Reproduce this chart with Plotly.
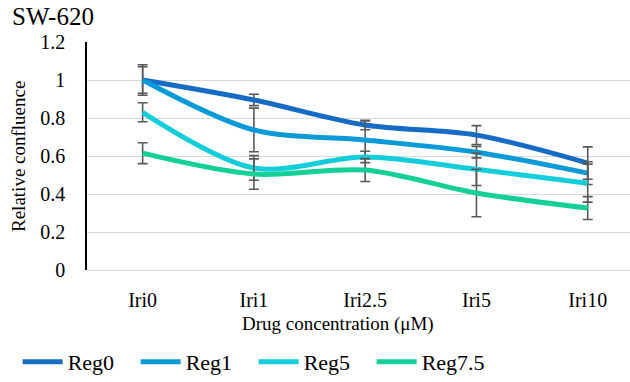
import plotly.graph_objects as go

categories = ["Iri0", "Iri1", "Iri2.5", "Iri5", "Iri10"]
series_names = ["Reg0", "Reg1", "Reg5", "Reg7.5"]
reg0 = [1.0, 0.895, 0.763, 0.71, 0.563]
reg1 = [1.0, 0.737, 0.684, 0.62, 0.51]
reg5 = [0.83, 0.537, 0.595, 0.53, 0.457]
reg75 = [0.615, 0.505, 0.526, 0.405, 0.326]
err0 = [0.08, 0.03, 0.025, 0.05, 0.085]
err1 = [0.07, 0.115, 0.1, 0.03, 0.06]
err5 = [0.05, 0.065, 0.03, 0.085, 0.1]
err75 = [0.055, 0.08, 0.06, 0.125, 0.06]
x_title = "Drug concentration (μM)"
y_title = "Relative confluence"
chart_title = "SW-620"

values = [reg0, reg1, reg5, reg75]
errors = [err0, err1, err5, err75]
colors = ["#166CC4", "#0A9AD8", "#13CEDA", "#14CF96"]

fig = go.Figure()
for name, vals, errs, col in zip(series_names, values, errors, colors):
    fig.add_trace(go.Scatter(
        x=categories, y=vals, name=name, mode="lines",
        line=dict(color=col, width=5, shape="spline", smoothing=0.9),
        error_y=dict(type="data", array=errs, visible=True,
                     color="#595959", thickness=1.6, width=5),
    ))

font_family = "'Times New Roman', 'Liberation Serif', 'DejaVu Serif', serif"
fig.update_layout(
    width=630, height=382,
    margin=dict(l=87, r=0, t=42, b=112),
    paper_bgcolor="white", plot_bgcolor="white",
    font=dict(family=font_family, color="black", size=18),
    title=dict(text=chart_title, x=12/630, xref="container", xanchor="left",
               y=1-16/382, yref="container", yanchor="middle",
               font=dict(size=25, family=font_family, color="black")),
    showlegend=True,
    legend=dict(orientation="h", xref="container", yref="container",
                x=0.028, xanchor="left", y=1-362/382, yanchor="middle",
                font=dict(size=22, family=font_family),
                entrywidth=63, entrywidthmode="pixels",
                itemwidth=40),
    annotations=[
        dict(text=x_title, xref="paper", yref="paper",
             x=(338-87)/543, y=(270-324)/228, xanchor="center", yanchor="middle",
             showarrow=False, font=dict(size=19, family=font_family)),
        dict(text=y_title, xref="paper", yref="paper", textangle=-90,
             x=(18-87)/543, y=(270-157)/228, xanchor="center", yanchor="middle",
             showarrow=False, font=dict(size=19, family=font_family)),
    ],
)
fig.update_xaxes(
    type="category", range=[-0.5, 4.38],
    showgrid=False, showline=False, zeroline=False,
    tickfont=dict(size=20, family=font_family),
    ticks="outside", ticklen=12, tickcolor="rgba(0,0,0,0)",
)
fig.update_yaxes(
    range=[0, 1.2], dtick=0.2,
    showgrid=True, gridcolor="#D9D9D9", gridwidth=1.3,
    zeroline=True, zerolinecolor="#D9D9D9", zerolinewidth=1.3,
    showline=True, linecolor="black", linewidth=1.5,
    tickfont=dict(size=20, family=font_family),
    ticks="outside", ticklen=16, tickcolor="rgba(0,0,0,0)",
)
fig.write_html("out.html")
